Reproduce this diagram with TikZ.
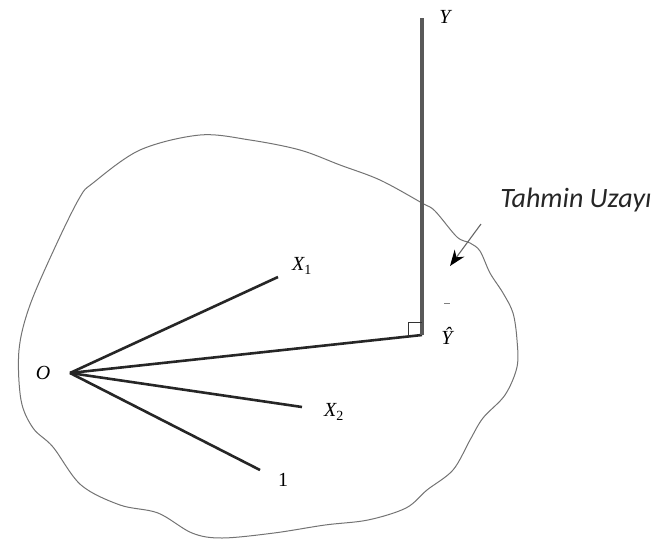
\documentclass[tikz,border=0pt]{standalone}
\usepackage{fontspec}
\setmainfont{Liberation Serif}
\newfontfamily\calib{Carlito}
\usetikzlibrary{arrows.meta}
\begin{document}
\begin{tikzpicture}[x=1pt,y=-1pt,
  vec/.style={line width=2.6pt, black!85},
  vert/.style={line width=3.6pt, black!65},
  blob/.style={black!55, line width=1pt},
  lbl/.style={font=\fontsize{20}{20}\selectfont\itshape, inner sep=0pt},
  pointer/.style={line width=1.1pt, black!60, -{Stealth[length=16pt,width=12pt,black]}}]
\useasboundingbox (0,0) rectangle (667,544);
\draw[blob] plot[smooth cycle, tension=0.55] coordinates {
 (21,400) (19,350) (30,305) (57,243) (80,197) (93,183) (140,150) (200,135)
 (250,140) (300,150) (340,165) (380,180) (422,203) (435,211) (457,237)
 (470,243) (480,251) (490,273) (503,293) (513,313) (517,340) (517,367)
 (505,395) (483,418) (470,440) (453,470) (427,490) (406,508) (368,520)
 (325,525) (274,533) (222,538) (192,533) (158,513) (120,505) (81,485)
 (53,447) (33,428)};
\coordinate (O) at (70,373);
\coordinate (Yh) at (422,335);
\coordinate (Ytop) at (422,18);
\coordinate (x1) at (278,277);
\coordinate (x2) at (302,407);
\coordinate (one) at (260,470);
\coordinate (a1) at (481,224);
\coordinate (a2) at (450,266);
\coordinate (d1) at (444,303);
\coordinate (d2) at (450,303);
\coordinate (r1) at (408,337);
\coordinate (r2) at (408,322);
\coordinate (r3) at (422,322);
\draw[vec] (O) -- (x1);
\draw[vec] (O) -- (Yh);
\draw[vec] (O) -- (x2);
\draw[vec] (O) -- (one);
\draw[vert] (Ytop) -- (Yh);
\draw[black!80, line width=0.8pt] (r1) -- (r2) -- (r3);
\draw[black!50, line width=0.8pt] (d1) -- (d2);
\draw[pointer] (a1) -- (a2);
\node[lbl] (Ol) at (43,373) {O};
\node[lbl] (Yl) at (445,17) {Y};
\node[lbl] (Yhl) at (447,336) {\^Y};
\node[lbl] (x1l) at (302,266) {X\textsubscript{\upshape 1}};
\node[lbl] (x2l) at (334,412) {X\textsubscript{\upshape 2}};
\node[lbl, font=\fontsize{20}{20}\selectfont\upshape] (onel) at (283,480) {1};
\node[inner sep=0pt, font=\calib\itshape\fontsize{28}{28}\selectfont, black!85] (tu) at (576,200) {Tahmin Uzayı};
\end{tikzpicture}
\end{document}
